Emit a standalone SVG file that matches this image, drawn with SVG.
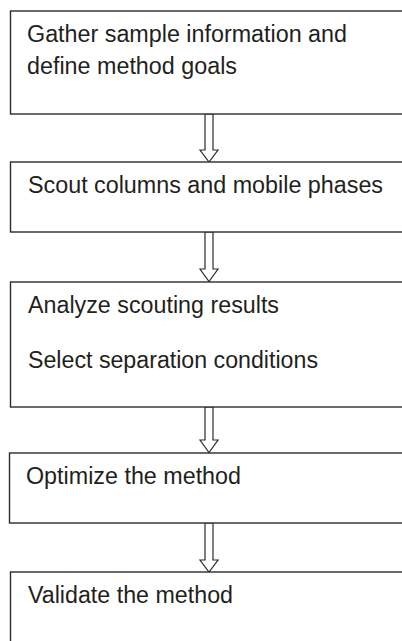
<svg xmlns="http://www.w3.org/2000/svg" width="402" height="641" viewBox="0 0 402 641">
<style>
.box{fill:#fff;stroke:#2b2b2b;stroke-width:1.4}
.arr{fill:#fff;stroke:#2b2b2b;stroke-width:1.2;stroke-linejoin:miter}
text{font-family:"Liberation Sans",Arial,sans-serif;font-size:23px;fill:#231f20}
</style>
<rect width="402" height="641" fill="#fff"/>
<g id="connectors">
<polygon class="arr" points="205,114 205,150 200,150 209,162 218,150 213,150 213,114"/>
<polygon class="arr" points="205,232 205,269 200,269 209,281.5 218,269 213,269 213,232"/>
<polygon class="arr" points="205,407 205,440 200,440 209,452.5 218,440 213,440 213,407"/>
<polygon class="arr" points="205,523 205,560 200,560 209,572 218,560 213,560 213,523"/>
</g>
<g id="n1">
<rect class="box" x="10.5" y="11" width="420" height="103"/>
<text x="27" y="42" textLength="320" lengthAdjust="spacingAndGlyphs">Gather sample information and</text>
<text x="27" y="74" textLength="210" lengthAdjust="spacingAndGlyphs">define method goals</text>
</g>
<g id="n2">
<rect class="box" x="10.5" y="162" width="420" height="70"/>
<text x="28" y="193" textLength="355" lengthAdjust="spacingAndGlyphs">Scout columns and mobile phases</text>
</g>
<g id="n3">
<rect class="box" x="10.5" y="282" width="420" height="125"/>
<text x="28" y="313" textLength="251" lengthAdjust="spacingAndGlyphs">Analyze scouting results</text>
<text x="28" y="368" textLength="290" lengthAdjust="spacingAndGlyphs">Select separation conditions</text>
</g>
<g id="n4">
<rect class="box" x="9.5" y="453" width="420" height="70"/>
<text x="26" y="484" textLength="215" lengthAdjust="spacingAndGlyphs">Optimize the method</text>
</g>
<g id="n5">
<rect class="box" x="10.5" y="572" width="420" height="100"/>
<text x="28" y="603" textLength="205" lengthAdjust="spacingAndGlyphs">Validate the method</text>
</g>
</svg>
